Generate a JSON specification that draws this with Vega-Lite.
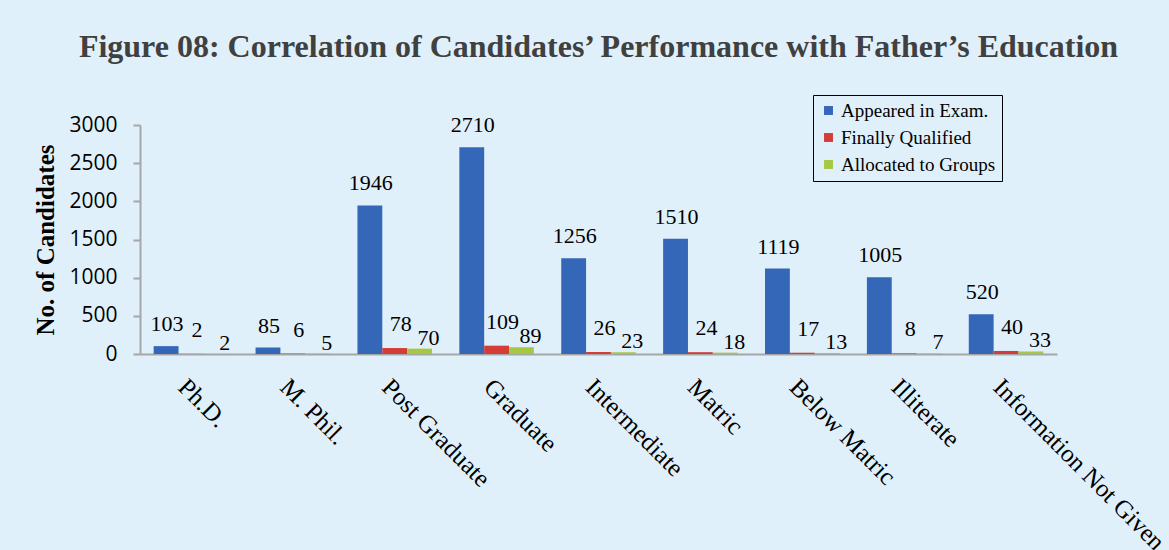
{
  "$schema": "https://vega.github.io/schema/vega-lite/v6.json",
  "width": 917,
  "height": 229,
  "autosize": {"type": "none"},
  "padding": {"left": 140, "top": 125, "right": 112, "bottom": 196},
  "background": "#e0f0fb",
  "title": {
    "text": "Figure 08: Correlation of Candidates’ Performance with Father’s Education",
    "font": "Liberation Serif",
    "fontSize": 32,
    "fontWeight": "bold",
    "color": "#404040",
    "anchor": "middle",
    "offset": 31
  },
  "data": {
    "values": [
      {"education": "Ph.D.", "series": "Appeared in Exam.", "count": 103},
      {"education": "Ph.D.", "series": "Finally Qualified", "count": 2},
      {"education": "Ph.D.", "series": "Allocated to Groups", "count": 2},
      {"education": "M. Phil.", "series": "Appeared in Exam.", "count": 85},
      {"education": "M. Phil.", "series": "Finally Qualified", "count": 6},
      {"education": "M. Phil.", "series": "Allocated to Groups", "count": 5},
      {"education": "Post Graduate", "series": "Appeared in Exam.", "count": 1946},
      {"education": "Post Graduate", "series": "Finally Qualified", "count": 78},
      {"education": "Post Graduate", "series": "Allocated to Groups", "count": 70},
      {"education": "Graduate", "series": "Appeared in Exam.", "count": 2710},
      {"education": "Graduate", "series": "Finally Qualified", "count": 109},
      {"education": "Graduate", "series": "Allocated to Groups", "count": 89},
      {"education": "Intermediate", "series": "Appeared in Exam.", "count": 1256},
      {"education": "Intermediate", "series": "Finally Qualified", "count": 26},
      {"education": "Intermediate", "series": "Allocated to Groups", "count": 23},
      {"education": "Matric", "series": "Appeared in Exam.", "count": 1510},
      {"education": "Matric", "series": "Finally Qualified", "count": 24},
      {"education": "Matric", "series": "Allocated to Groups", "count": 18},
      {"education": "Below Matric", "series": "Appeared in Exam.", "count": 1119},
      {"education": "Below Matric", "series": "Finally Qualified", "count": 17},
      {"education": "Below Matric", "series": "Allocated to Groups", "count": 13},
      {"education": "Illiterate", "series": "Appeared in Exam.", "count": 1005},
      {"education": "Illiterate", "series": "Finally Qualified", "count": 8},
      {"education": "Illiterate", "series": "Allocated to Groups", "count": 7},
      {"education": "Information Not Given", "series": "Appeared in Exam.", "count": 520},
      {"education": "Information Not Given", "series": "Finally Qualified", "count": 40},
      {"education": "Information Not Given", "series": "Allocated to Groups", "count": 33}
    ]
  },
  "encoding": {
    "x": {
      "field": "education",
      "type": "nominal",
      "sort": ["Ph.D.", "M. Phil.", "Post Graduate", "Graduate", "Intermediate", "Matric", "Below Matric", "Illiterate", "Information Not Given"],
      "scale": {"paddingInner": 0, "paddingOuter": 0},
      "axis": {
        "title": null,
        "labelAngle": 45,
        "labelAlign": "left",
        "labelBaseline": "top",
        "labelPadding": 20,
        "labelFont": "Liberation Serif",
        "labelFontSize": 25,
        "labelColor": "#000000",
        "labelOverlap": false,
        "labelLimit": 0,
        "ticks": false,
        "domainColor": "#a6a6a6",
        "domainWidth": 2,
        "grid": false
      }
    },
    "xOffset": {
      "field": "series",
      "type": "nominal",
      "sort": ["Appeared in Exam.", "Finally Qualified", "Allocated to Groups"],
      "scale": {"paddingInner": 0, "paddingOuter": 0.55}
    },
    "y": {
      "field": "count",
      "type": "quantitative",
      "scale": {"domain": [0, 3000], "nice": false},
      "axis": {
        "title": "No. of Candidates",
        "titleFont": "Liberation Serif",
        "titleFontSize": 25,
        "titleFontWeight": "bold",
        "titleColor": "#000000",
        "titlePadding": 10,
        "values": [0, 500, 1000, 1500, 2000, 2500, 3000],
        "format": "d",
        "labelFont": "Open Sans",
        "labelFontSize": 21,
        "labelColor": "#000000",
        "labelPadding": 16,
        "tickSize": 7,
        "tickColor": "#a6a6a6",
        "domainColor": "#a6a6a6",
        "domainWidth": 2,
        "tickWidth": 2,
        "grid": false
      }
    }
  },
  "layer": [
    {
      "mark": {"type": "bar"},
      "encoding": {
        "color": {
          "field": "series",
          "type": "nominal",
          "sort": ["Appeared in Exam.", "Finally Qualified", "Allocated to Groups"],
          "scale": {
            "domain": ["Appeared in Exam.", "Finally Qualified", "Allocated to Groups"],
            "range": ["#3467b8", "#d43d37", "#a5c842"]
          },
          "legend": {
            "title": null,
            "orient": "none",
            "legendX": 673,
            "legendY": -30,
            "strokeColor": "#000000",
            "fillColor": "#e0f0fb",
            "padding": 6,
            "symbolType": "square",
            "symbolSize": 80,
            "symbolStrokeWidth": 0,
            "labelFont": "Liberation Serif",
            "labelFontSize": 19,
            "labelColor": "#000000",
            "labelOffset": 3,
            "rowPadding": 7
          }
        }
      }
    },
    {
      "transform": [{"filter": "datum.series === 'Appeared in Exam.'"}],
      "mark": {"type": "text", "baseline": "alphabetic", "dy": -15, "dx": 1, "font": "Liberation Serif", "fontSize": 22, "color": "#000000"},
      "encoding": {"text": {"field": "count", "type": "quantitative"}}
    },
    {
      "transform": [{"filter": "datum.series === 'Finally Qualified'"}],
      "mark": {"type": "text", "baseline": "alphabetic", "dy": -17, "dx": 6, "font": "Liberation Serif", "fontSize": 22, "color": "#000000"},
      "encoding": {"text": {"field": "count", "type": "quantitative"}}
    },
    {
      "transform": [{"filter": "datum.series === 'Allocated to Groups'"}],
      "mark": {"type": "text", "baseline": "alphabetic", "dy": -4, "dx": 9, "font": "Liberation Serif", "fontSize": 22, "color": "#000000"},
      "encoding": {"text": {"field": "count", "type": "quantitative"}}
    }
  ],
  "config": {"view": {"stroke": null}}
}
